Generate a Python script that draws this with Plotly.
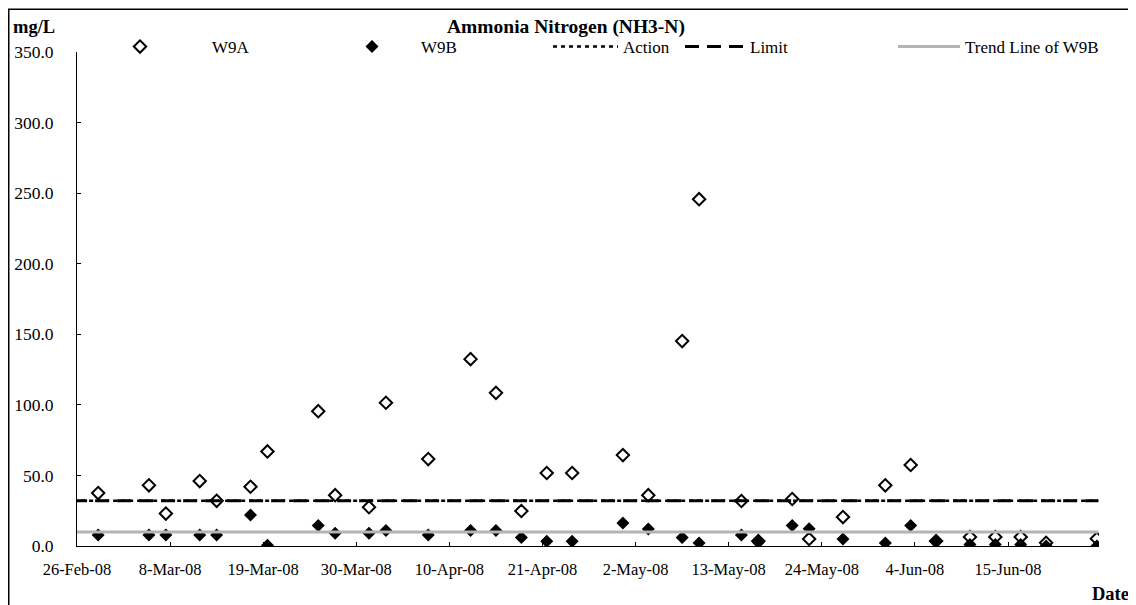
import plotly.graph_objects as go

# ---- data ----
sample_dates = [
    "2008-02-28", "2008-03-05", "2008-03-07", "2008-03-11", "2008-03-13",
    "2008-03-17", "2008-03-19", "2008-03-25", "2008-03-27", "2008-03-31",
    "2008-04-02", "2008-04-07", "2008-04-12", "2008-04-15", "2008-04-18",
    "2008-04-21", "2008-04-24", "2008-04-30", "2008-05-03", "2008-05-07",
    "2008-05-09", "2008-05-14", "2008-05-16", "2008-05-20", "2008-05-22",
    "2008-05-26", "2008-05-31", "2008-06-03", "2008-06-06", "2008-06-10",
    "2008-06-13", "2008-06-16", "2008-06-19", "2008-06-25",
]
sample_time = "12:00"

w9a = [37.5, 43.0, 23.0, 46.0, 32.0, 42.0, 67.0, 95.5, 36.0, 27.5,
       101.5, 61.6, 132.4, 108.5, 24.8, 51.7, 51.7, 64.4, 36.0, 145.2,
       245.7, 31.9, 3.5, 33.3, 5.0, 20.5, 43.0, 57.4, 3.5, 6.4,
       6.4, 6.4, 2.3, 5.2]
w9b = [7.8, 7.8, 7.8, 7.8, 7.8, 22.0, 0.5, 14.6, 9.0, 9.0,
       10.9, 7.8, 10.9, 10.9, 6.1, 3.3, 3.3, 16.3, 12.0, 6.1,
       2.1, 7.8, 2.6, 14.6, 12.3, 5.0, 2.1, 14.6, 3.1, 1.0,
       1.0, 1.0, 0.0, 0.0]

ref_line_dates = ["2008-02-25 13:00", "2008-06-25 16:00"]
trend_line_dates = ["2008-02-26", "2008-06-25 16:00"]
action_level = [32.0, 32.0]
limit_level = [32.0, 32.0]
trend_w9b = [9.9, 9.9]

x_range = ["2008-02-26", "2008-06-25 18:00"]
y_range = [0, 350]
tick_start = "2008-02-26"
tick_step_days = 11

title_text = "Ammonia Nitrogen (NH3-N)"
y_unit_text = "mg/L"
x_label_text = "Date"

FONT = "Liberation Serif"
xs = [d + " " + sample_time for d in sample_dates]

fig = go.Figure()
fig.add_trace(go.Scatter(
    x=xs, y=w9a, mode="markers", name="W9A", legend="legend",
    marker=dict(symbol="diamond-open", size=9.5, color="black", line=dict(width=2, color="black")),
))
fig.add_trace(go.Scatter(
    x=xs, y=w9b, mode="markers", name="W9B", legend="legend2",
    marker=dict(symbol="diamond", size=10, color="black"),
))
fig.add_trace(go.Scatter(
    x=ref_line_dates, y=action_level, mode="lines", name="Action", legend="legend3",
    line=dict(color="black", width=2.5, dash="4px,4px"),
))
fig.add_trace(go.Scatter(
    x=ref_line_dates, y=limit_level, mode="lines", name="Limit", legend="legend4",
    line=dict(color="black", width=3, dash="14px,8px"),
))
fig.add_trace(go.Scatter(
    x=trend_line_dates, y=trend_w9b, mode="lines", name="Trend Line of W9B", legend="legend5",
    line=dict(color="#b4b4b4", width=3),
))

# page is shown with an 8px body margin: figure is shifted by OFF px
OFF = 8
W, H = 1136 - OFF, 605 - OFF
ml, mr, mt, mb = 77 - OFF, 37, 52 - OFF, 59
pw, ph = W - ml - mr, H - mt - mb

def px_x(x):
    """page pixel x -> paper x"""
    return (x - OFF - ml) / pw

def px_y(y):
    """page pixel y -> paper y"""
    return (H - mb - (y - OFF)) / ph

leg_common = dict(orientation="h", xanchor="left", yanchor="middle",
                  bgcolor="rgba(0,0,0,0)", borderwidth=0,
                  font=dict(family=FONT, size=17, color="black"))
LEG_Y = px_y(47)

fig.update_layout(
    width=W, height=H,
    margin=dict(l=ml, r=mr, t=mt, b=mb, autoexpand=False),
    paper_bgcolor="white", plot_bgcolor="white",
    font=dict(family=FONT, size=16, color="black"),
    showlegend=True,
    legend=dict(x=px_x(68), y=LEG_Y, itemwidth=134, **leg_common),
    legend2=dict(x=px_x(323), y=LEG_Y, itemwidth=88, **leg_common),
    legend3=dict(x=px_x(548), y=LEG_Y, itemwidth=65, **leg_common),
    legend4=dict(x=px_x(680), y=LEG_Y, itemwidth=60, **leg_common),
    legend5=dict(x=px_x(893), y=LEG_Y, itemwidth=62, **leg_common),
    xaxis=dict(
        type="date", range=x_range, tick0=tick_start, dtick=tick_step_days * 86400000,
        tickformat="%-d-%b-%y", ticks="inside", ticklen=4, tickcolor="black",
        showline=True, linecolor="black", linewidth=1, showgrid=False, zeroline=False,
        tickfont=dict(family=FONT, size=16.5), ticklabelstandoff=8,
    ),
    yaxis=dict(
        range=y_range, dtick=50, tickformat=".1f", ticks="inside", ticklen=4, tickcolor="black",
        showline=True, linecolor="black", linewidth=1, showgrid=False, zeroline=False,
        tickfont=dict(family=FONT, size=17.5), ticklabelstandoff=19,
    ),
    annotations=[
        dict(text="<b>" + title_text + "</b>", xref="paper", yref="paper",
             x=px_x(566), y=px_y(27), xanchor="center", yanchor="middle",
             showarrow=False, font=dict(family=FONT, size=19.5)),
        dict(text="<b>" + y_unit_text + "</b>", xref="paper", yref="paper",
             x=px_x(11), y=px_y(27), xanchor="left", yanchor="middle",
             showarrow=False, font=dict(family=FONT, size=18.5)),
        dict(text="<b>" + x_label_text + "</b>", xref="paper", yref="paper",
             x=px_x(1131), y=px_y(594), xanchor="right", yanchor="middle",
             showarrow=False, font=dict(family=FONT, size=18.5)),
    ],
    shapes=[
        dict(type="rect", xref="paper", yref="paper",
             x0=px_x(8.75), y0=px_y(700), x1=px_x(1200), y1=px_y(9.25),
             line=dict(color="black", width=1.5), fillcolor="rgba(0,0,0,0)", layer="below"),
    ],
)

fig.write_html("out.html")
